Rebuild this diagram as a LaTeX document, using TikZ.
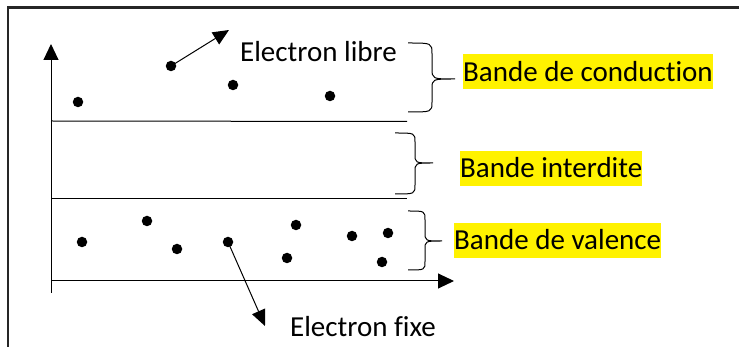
\documentclass[tikz,border=0pt]{standalone}
\usepackage{fontspec}
\setmainfont{Carlito}[Ligatures={NoCommon,NoRequired,NoContextual}]
\usetikzlibrary{arrows.meta}
\newcommand{\mybrace}[6]{% x0,x1,x2,y0,ym,y1
  \draw[bracestyle] (#1,#4) .. controls (#2,#4) .. (#2,{#4+0.3*(#5-#4)})
    -- (#2,{#5-0.3*(#5-#4)}) .. controls (#2,#5) .. (#3,#5)
    .. controls (#2,#5) .. (#2,{#5+0.3*(#6-#5)})
    -- (#2,{#6-0.3*(#6-#5)}) .. controls (#2,#6) .. (#1,#6);}
\begin{document}
\begin{tikzpicture}[x=1pt,y=-1pt,
  bracestyle/.style={line width=1pt},
  dot/.style={circle,fill=black,inner sep=0pt,minimum size=10.5pt},
  axis/.style={line width=1pt,-{Triangle[length=16pt,width=15pt]}},
  band/.style={line width=1pt},
  pointer/.style={line width=1pt,-{Triangle[length=16pt,width=14pt]}},
  lbl/.style={anchor=base west,inner sep=0pt,font=\fontsize{29}{32}\selectfont},
  hl/.style={lbl,fill=yellow,text height=27pt,text depth=8pt}]
\useasboundingbox (0,0) rectangle (739,347);
% frame
\draw[line width=2.2pt,black!85] (8,347) -- (8,7.5) -- (739,7.5);
% axes
\coordinate (O) at (51,293);
\coordinate (Ytip) at (51,44);
\coordinate (Hx0) at (51,281);
\coordinate (Xtip) at (454,281);
\draw[axis] (O) -- (Ytip);
\draw[axis] (Hx0) -- (Xtip);
% band edges
\coordinate (L1a) at (51,121); \coordinate (L1b) at (407,121.5);
\coordinate (L2a) at (51,199); \coordinate (L2b) at (407,199);
\draw[band] (L1a) -- (L1b);
\draw[band] (L2a) -- (L2b);
% conduction electrons
\node[dot] (c1) at (78,102) {};
\node[dot] (c2) at (171,66) {};
\node[dot] (c3) at (233,85) {};
\node[dot] (c4) at (330,96) {};
% valence electrons
\node[dot] (v1) at (82,242) {};
\node[dot] (v2) at (147,221) {};
\node[dot] (v3) at (177,249) {};
\node[dot] (v4) at (228,242) {};
\node[dot] (v5) at (296,225) {};
\node[dot] (v6) at (287,258) {};
\node[dot] (v7) at (352,236) {};
\node[dot] (v8) at (388,233) {};
\node[dot] (v9) at (382,262) {};
% pointers
\coordinate (libretip) at (229,30);
\coordinate (fixetip) at (265,326);
\draw[pointer] (c2.center) -- (libretip);
\draw[pointer] (v4.center) -- (fixetip);
% labels
\node[lbl] (libre) at (240,62) {Electron libre};
\node[lbl] (fixe) at (290,337) {Electron fixe};
% braces
\mybrace{408}{432}{455}{43}{79}{112}
\mybrace{395}{415}{433}{133}{163}{194}
\mybrace{408}{425}{442}{211}{241}{270}
% band names
\node[hl] (cond) at (463,81.5) {Bande de conduction};
\node[hl] (inter) at (460,178) {Bande interdite};
\node[hl] (val) at (454,250) {Bande de valence};
\end{tikzpicture}
\end{document}
